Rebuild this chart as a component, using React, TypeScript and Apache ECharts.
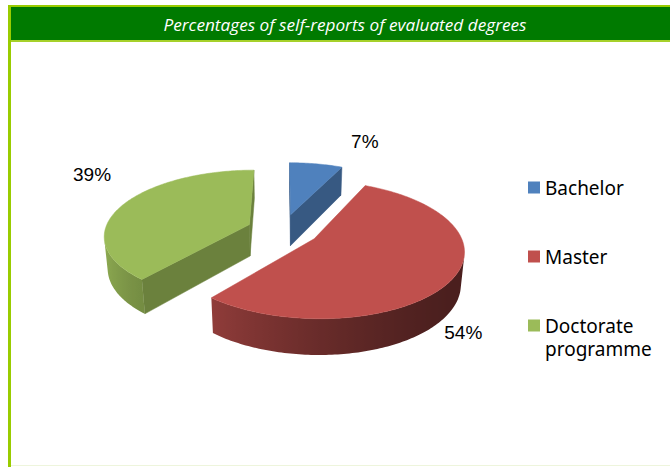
import React, { useEffect, useRef } from 'react';
import * as echarts from 'echarts';

// ---------- data ----------
const CATEGORIES = ['Bachelor', 'Master', 'Doctorate programme'];
const VALUES = [7, 54, 39];
const PERCENT_LABELS = ['7%', '54%', '39%'];
const COLORS = ['#4f81bd', '#c0504d', '#9bbb59'];
const TITLE = 'Percentages of self-reports of evaluated degrees';

// ---------- layout (3D pie view) ----------
const PIE = {
  cx: 283,
  cy: 230,
  scale: 144.5,
  elevationDeg: 26.5,
  distance: 5.77,
  height: 0.25,
  explode: 0.25,
};
const LABEL_ANCHORS = [
  { angleDeg: 23.8, r: 1.65 },
  { angleDeg: 145.4, r: 1.39 },
  { angleDeg: 305.4, r: 1.585 },
];

const PHI = (PIE.elevationDeg * Math.PI) / 180;
const SIN_P = Math.sin(PHI);
const COS_P = Math.cos(PHI);

function project(u: number, v: number, w: number): number[] {
  const depth = 1 + (v * COS_P - w * SIN_P) / PIE.distance;
  return [PIE.cx + (PIE.scale * u) / depth, PIE.cy - (PIE.scale * (v * SIN_P + w * COS_P)) / depth];
}

function shade(hex: string, k: number): string {
  const n = parseInt(hex.slice(1), 16);
  const r = Math.min(255, Math.round(((n >> 16) & 255) * k));
  const g = Math.min(255, Math.round(((n >> 8) & 255) * k));
  const b = Math.min(255, Math.round((n & 255) * k));
  return `rgb(${r},${g},${b})`;
}

function wallLight(th: number): number {
  return 0.7 + 0.31 * Math.cos(th - (300 * Math.PI) / 180);
}

function makeRenderItem(idx: number) {
  return (params: any, api: any) => {
    const total = VALUES.reduce((a, b) => a + b, 0);
    const before = VALUES.slice(0, idx).reduce((a, b) => a + b, 0);
    const value = api.value(0);
    const a0 = (before / total) * Math.PI * 2;
    const a1 = ((before + value) / total) * Math.PI * 2;
    const mid = (a0 + a1) / 2;
    const ou = PIE.explode * Math.sin(mid);
    const ov = PIE.explode * Math.cos(mid);
    const H = PIE.height;
    const P = (r: number, th: number, w: number) => project(ou + r * Math.sin(th), ov + r * Math.cos(th), w);
    const base = COLORS[idx];
    const camV = -PIE.distance * COS_P;
    const children: any[] = [];

    // cut faces
    const faces: number[][] = [
      [a0, a0 - Math.PI / 2],
      [a1, a1 + Math.PI / 2],
    ];
    for (const [th, nth] of faces) {
      const dot = (0 - ou) * Math.sin(nth) + (camV - ov) * Math.cos(nth);
      if (dot > 0) {
        const col = shade(base, 0.69);
        children.push({
          type: 'polygon',
          shape: { points: [P(0, 0, 0), P(1, th, 0), P(1, th, -H), P(0, 0, -H)] },
          style: { fill: col, stroke: col, lineWidth: 0.5 },
        });
      }
    }

    // outer wall
    const steps = Math.max(2, Math.ceil((a1 - a0) / (Math.PI / 180)));
    let run: number[] = [];
    const flush = () => {
      if (run.length >= 2) {
        const top = run.map((th) => P(1, th, 0));
        const bot = run.map((th) => P(1, th, -H));
        const pts = [...top, ...bot.slice().reverse()];
        let minX = Infinity;
        let maxX = -Infinity;
        pts.forEach((p) => {
          minX = Math.min(minX, p[0]);
          maxX = Math.max(maxX, p[0]);
        });
        const span = Math.max(1e-6, maxX - minX);
        const stops = run
          .map((th, j) => ({
            offset: Math.min(1, Math.max(0, (top[j][0] - minX) / span)),
            color: shade(base, wallLight(th)),
          }))
          .sort((a, b) => a.offset - b.offset);
        children.push({
          type: 'polygon',
          shape: { points: pts },
          style: { fill: new echarts.graphic.LinearGradient(0, 0, 1, 0, stops) },
        });
      }
      run = [];
    };
    for (let k = 0; k <= steps; k++) {
      const th = a0 + ((a1 - a0) * k) / steps;
      const pu = ou + Math.sin(th);
      const pv = ov + Math.cos(th);
      const vis = -pu * Math.sin(th) + (camV - pv) * Math.cos(th) > 0;
      if (vis) run.push(th);
      else flush();
    }
    flush();

    // top face
    const topPts: number[][] = [P(0, 0, 0)];
    for (let k = 0; k <= steps; k++) {
      topPts.push(P(1, a0 + ((a1 - a0) * k) / steps, 0));
    }
    children.push({
      type: 'polygon',
      shape: { points: topPts },
      style: { fill: base, stroke: base, lineWidth: 0.5 },
    });

    // label
    const la = LABEL_ANCHORS[idx];
    const lp = P(la.r, (la.angleDeg * Math.PI) / 180, 0);
    children.push({
      type: 'text',
      x: lp[0],
      y: lp[1],
      style: {
        text: PERCENT_LABELS[idx],
        fill: '#000000',
        fontSize: 19,
        fontFamily: 'Liberation Sans, Arial, sans-serif',
        align: 'center',
        verticalAlign: 'middle',
      },
    });

    return { type: 'group', children };
  };
}

// legend label: first line sits beside the marker, extra words go on following lines
function legendText(name: string): string {
  const parts = name.split(' ');
  const first = parts[0];
  const rest = parts.slice(1).join(' ');
  return ' \n' + first + '\n' + (rest || ' ');
}

export default function App() {
  const ref = useRef<HTMLDivElement>(null);
  useEffect(() => {
    if (!ref.current) return;
    const chart = echarts.init(ref.current, null, { renderer: 'svg' });
    const zOrder = [1, 3, 2];
    chart.setOption({
      animation: false,
      backgroundColor: '#ffffff',
      graphic: [
        { type: 'rect', z: 0, shape: { x: 8, y: 5, width: 662, height: 2 }, style: { fill: '#99cc00' } },
        { type: 'rect', z: 0, shape: { x: 8, y: 5, width: 3, height: 462 }, style: { fill: '#99cc00' } },
        { type: 'rect', z: 0, shape: { x: 11, y: 7, width: 659, height: 33 }, style: { fill: '#007a00' } },
        { type: 'rect', z: 0, shape: { x: 11, y: 40, width: 659, height: 2 }, style: { fill: '#a6d12a' } },
        { type: 'rect', z: 0, shape: { x: 11, y: 465, width: 659, height: 1 }, style: { fill: '#eef5dc' } },
        {
          type: 'text',
          z: 1,
          x: 345,
          y: 24,
          style: {
            text: TITLE,
            fill: '#ffffff',
            fontSize: 17.2,
            fontStyle: 'italic',
            fontFamily: 'Open Sans, sans-serif',
            align: 'center',
            verticalAlign: 'middle',
          },
        },
      ],
      legend: {
        orient: 'vertical',
        left: 528,
        top: 153,
        padding: 0,
        itemWidth: 12,
        itemHeight: 12,
        itemGap: 0,
        icon: 'rect',
        selectedMode: false,
        formatter: (n: string) => legendText(n),
        textStyle: {
          fontFamily: 'Noto Sans, sans-serif',
          fontSize: 19,
          color: '#000000',
          lineHeight: 23,
        },
        data: CATEGORIES.map((name, i) => ({
          name,
          itemStyle: { color: COLORS[i] },
        })),
      },
      series: CATEGORIES.map((name, i) => ({
        type: 'custom',
        name,
        coordinateSystem: 'none',
        silent: true,
        z: 2 + zOrder[i],
        itemStyle: { color: COLORS[i] },
        renderItem: makeRenderItem(i),
        data: [[VALUES[i]]],
      })),
    });
    return () => chart.dispose();
  }, []);
  return <div ref={ref} style={{ position: 'absolute', left: 0, top: 0, width: 670, height: 467 }} />;
}
